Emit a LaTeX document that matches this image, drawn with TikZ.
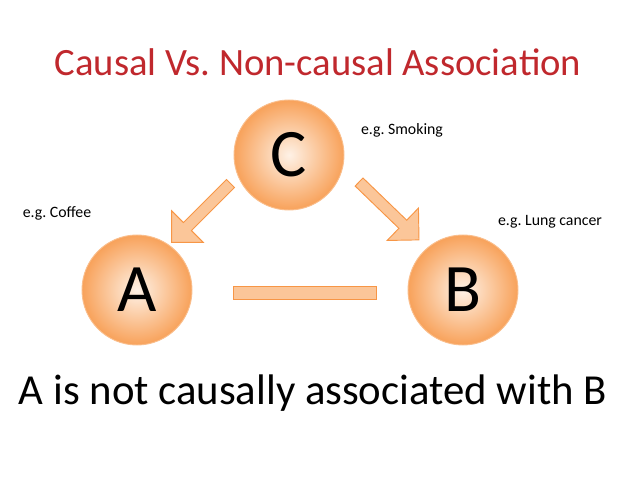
\documentclass[tikz,border=0pt]{standalone}
\usepackage{fontspec}
\setmainfont{Carlito}
\usetikzlibrary{positioning,shapes.arrows}
\definecolor{titlered}{RGB}{192,40,45}
\definecolor{peach}{RGB}{253,228,205}
\definecolor{deeporange}{RGB}{247,150,70}
\definecolor{rimorange}{RGB}{250,190,140}
\frenchspacing

\begin{document}
\begin{tikzpicture}[x=0.03cm,y=-0.03cm]
  \tikzstyle{ball}=[circle, minimum size=3.3cm, inner sep=0pt, draw=rimorange, thick,
                    inner color=peach!50!white, outer color=deeporange!85!peach, font=\fontsize{58}{58}\selectfont]
  \tikzstyle{fat}=[single arrow, draw=deeporange, fill=rimorange!80!peach, thick,
                   minimum height=2.5cm, minimum width=1.35cm, single arrow head extend=0.2cm, inner sep=1.5pt]
  \tikzstyle{eg}=[font=\fontsize{13.5}{15}\selectfont]
  \useasboundingbox (0,0) rectangle (638,479);
  \node[text=titlered, font=\fontsize{33}{36}\selectfont] (title) at (318,62) {Causal Vs. Non-causal Association};
  \node[ball] (C) at (289,155) {C};
  \node[ball] (A) at (137,290) {A};
  \node[ball] (B) at (463,290) {B};
  \node[eg] (smoke) at (402,130) {e.g. Smoking};
  \node[eg] (coffee) at (57,213) {e.g. Coffee};
  \node[eg] (lung) at (550,222) {e.g. Lung cancer};
  \node[fat, rotate=225] (ca) at (203,211) {};
  \node[fat, rotate=-44] (cb) at (387,209) {};
  \node[draw=deeporange, fill=rimorange!80!peach, thick, minimum width=4.3cm,
        minimum height=0.38cm, inner sep=0pt] (ab) at (305,293) {};
  \node[font=\fontsize{36.5}{40}\selectfont] (claim) at (313,393) {A is not causally associated with B};
\end{tikzpicture}
\end{document}
